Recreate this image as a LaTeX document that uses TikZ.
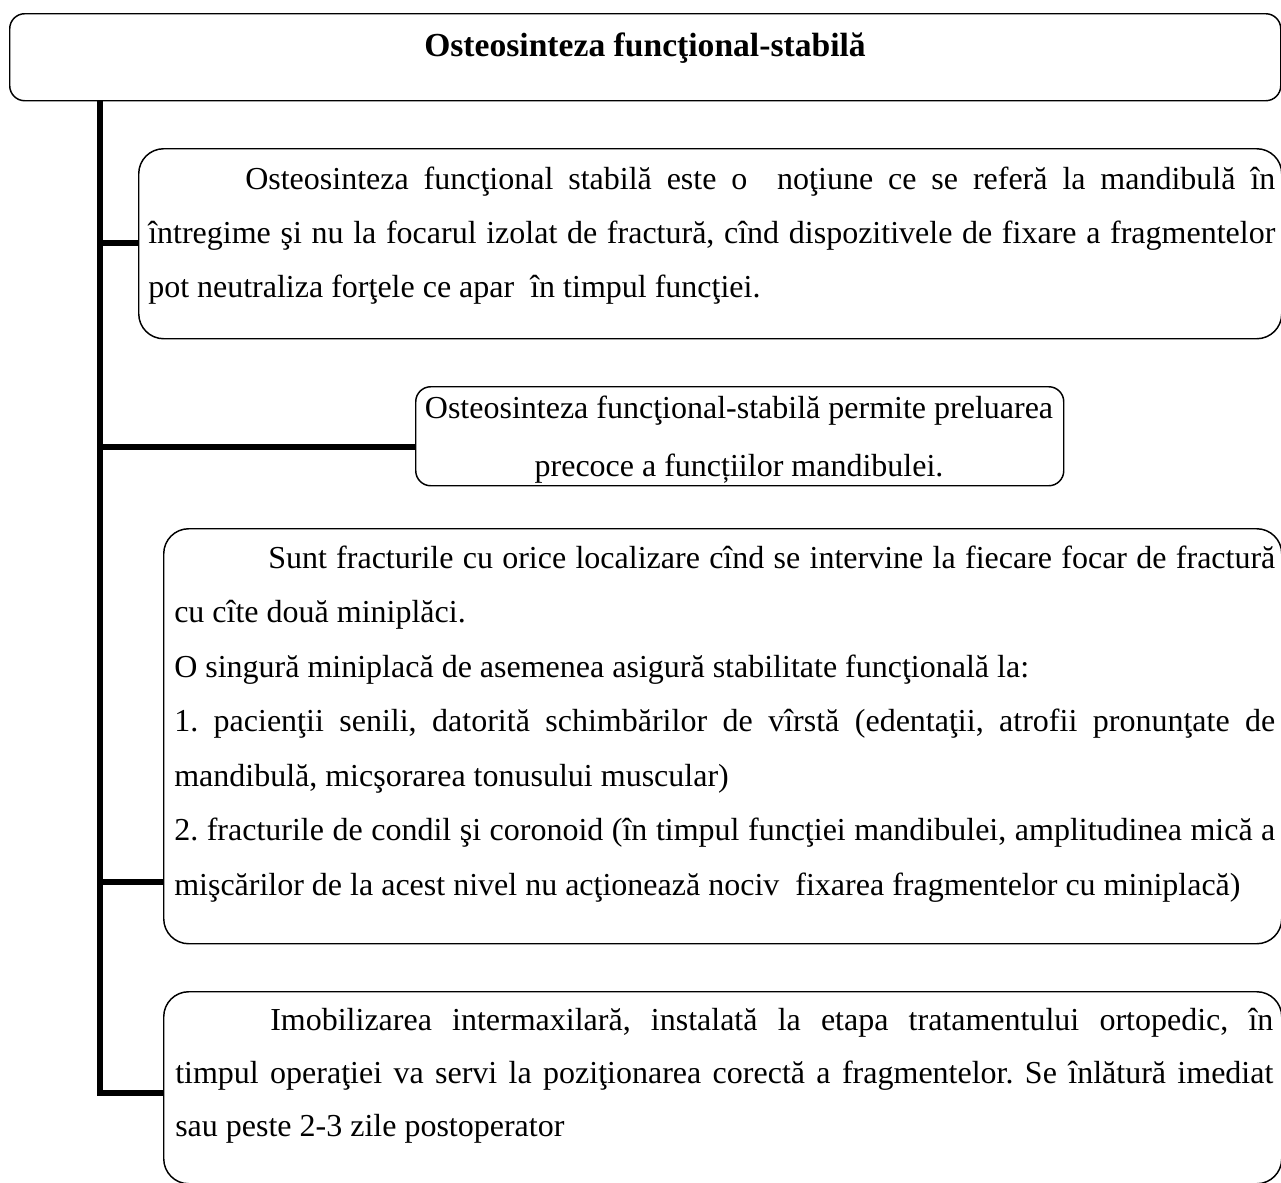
\documentclass[tikz,border=0pt]{standalone}
\usepackage{fontspec}
\setmainfont{Liberation Serif}
\frenchspacing
\begin{document}
\begin{tikzpicture}[x=0.75pt,y=-0.75pt,
  box/.style={draw, line width=1.1pt, inner sep=0pt, anchor=north west},
  trunk/.style={line width=4.6pt, line join=miter},
  branch/.style={line width=3.9pt},
  txt/.style={anchor=base west, inner sep=0pt, font=\fontsize{24pt}{40.5pt}\selectfont},
]
\useasboundingbox (0,0) rectangle (1281,1182);
% boxes
\node[box, rounded corners=11.25pt, minimum width=953.25pt, minimum height=65.25pt] (b0) at (9,13) {};
\node[box, rounded corners=18.75pt, minimum width=857.25pt, minimum height=142.5pt] (b1) at (138,148) {};
\node[box, rounded corners=11.25pt, minimum width=486pt, minimum height=74.25pt] (b2) at (415,386) {};
\node[box, rounded corners=18.75pt, minimum width=838.5pt, minimum height=311.25pt] (b3) at (163,528) {};
\node[box, rounded corners=18.75pt, minimum width=838.5pt, minimum height=144pt] (b4) at (163,991) {};
% title
\node[anchor=base, inner sep=0pt, font=\fontsize{25.2pt}{28pt}\selectfont\bfseries] (title) at (645,56) {Osteosinteza funcţional-stabilă};
% connectors
\coordinate (t0) at (100,100);
\coordinate (j1) at (100,243);
\coordinate (j2) at (100,447);
\coordinate (j3) at (100,882);
\coordinate (j4) at (100,1093);
\draw[trunk] (t0) -- (j4) -- (j4 -| b4.west);
\draw[branch] (j1) -- (j1 -| b1.west);
\draw[branch] (j2) -- (j2 -| b2.west);
\draw[branch] (j3) -- (j3 -| b3.west);
% texts
\node[txt] (x1) at (148,189) {\parbox[t]{845.25pt}{\setlength{\baselineskip}{40.5pt}%
\hspace*{72.75pt}\makebox[772.5pt][s]{Osteosinteza funcţional stabilă este o\ \ noţiune ce se referă la mandibulă în}\\
\makebox[845.25pt][s]{întregime şi nu la focarul izolat de fractură, cînd dispozitivele de fixare a fragmentelor}\\
pot neutraliza forţele ce apar\ \ în timpul funcţiei.}};
\node[anchor=base, inner sep=0pt, font=\fontsize{24pt}{43.5pt}\selectfont] (x2) at (739,418) {\parbox[t]{640pt}{\centering\setlength{\baselineskip}{43.5pt}%
Osteosinteza funcţional-stabilă permite preluarea\\
precoce a funcțiilor mandibulei.}};
\node[txt] (x3) at (174,568) {\parbox[t]{825.75pt}{\setlength{\baselineskip}{40.875pt}%
\hspace*{70.5pt}\makebox[755.25pt][s]{Sunt fracturile cu orice localizare cînd se intervine la fiecare focar de fractură}\\
cu cîte două miniplăci.\\
O singură miniplacă de asemenea asigură stabilitate funcţională la:\\
\makebox[825.75pt][s]{1. pacienţii senili, datorită schimbărilor de vîrstă (edentaţii, atrofii pronunţate de}\\
mandibulă, micşorarea tonusului muscular)\\
\makebox[825.75pt][s]{2. fracturile de condil şi coronoid (în timpul funcţiei mandibulei, amplitudinea mică a}\\
mişcărilor de la acest nivel nu acţionează nociv\ \ fixarea fragmentelor cu miniplacă)}};
\node[txt] (x4) at (175,1030) {\parbox[t]{823.5pt}{\setlength{\baselineskip}{39.75pt}%
\hspace*{71.25pt}\makebox[752.25pt][s]{Imobilizarea intermaxilară, instalată la etapa tratamentului ortopedic, în}\\
\makebox[823.5pt][s]{timpul operaţiei va servi la poziţionarea corectă a fragmentelor. Se înlătură imediat}\\
sau peste 2-3 zile postoperator}};
\end{tikzpicture}
\end{document}
